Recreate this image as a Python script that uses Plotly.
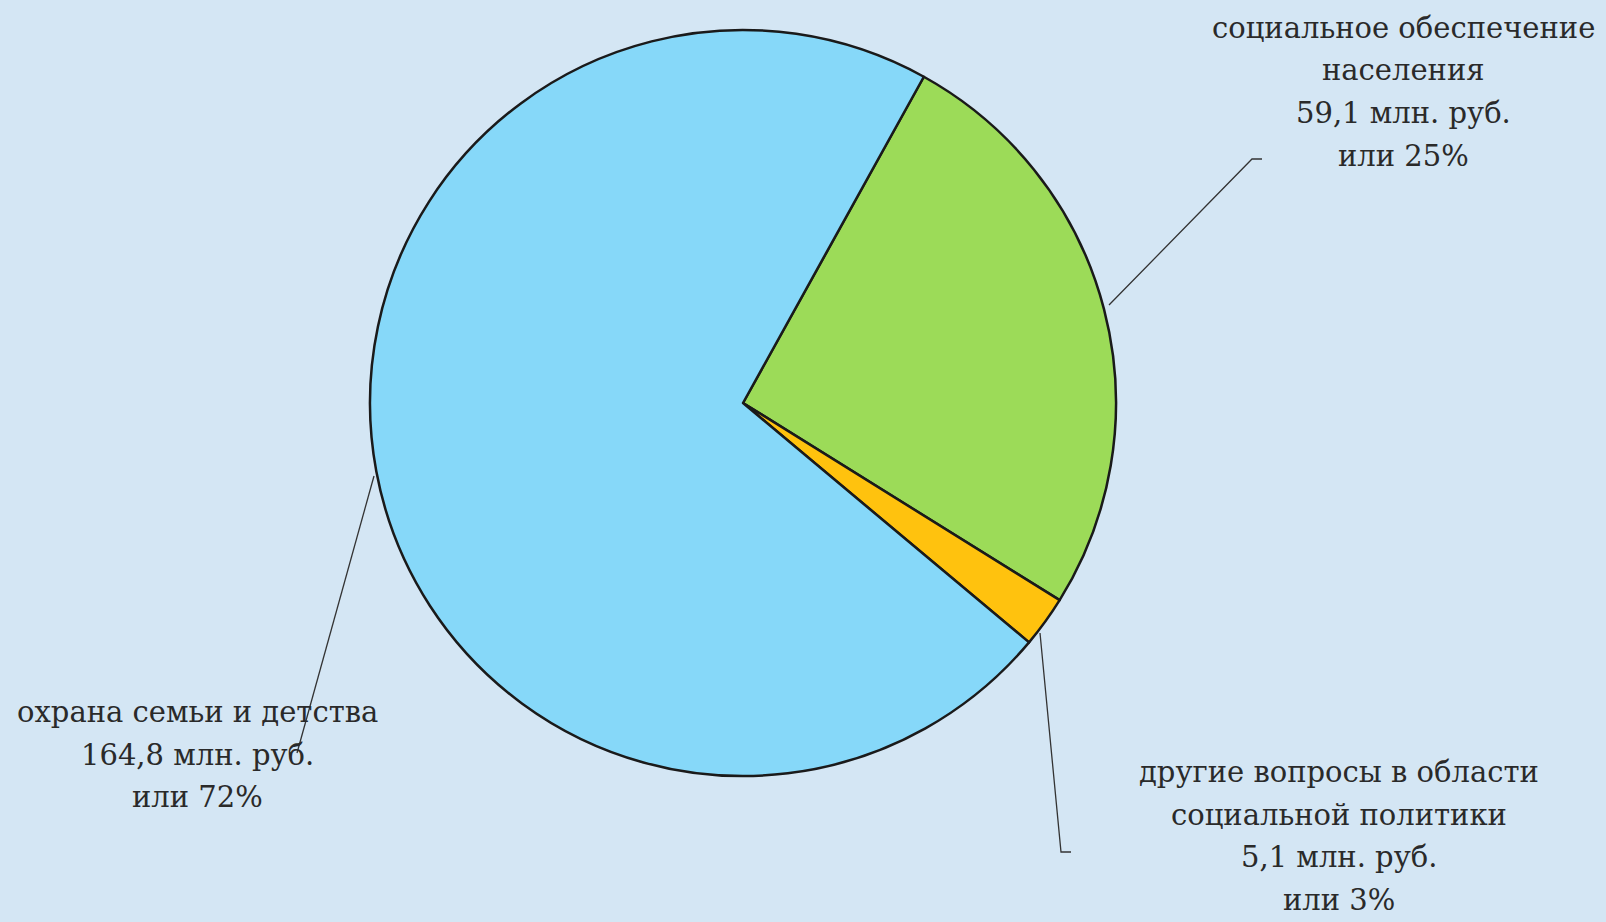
import plotly.graph_objects as go

categories = ["социальное обеспечение населения",
              "другие вопросы в области социальной политики",
              "охрана семьи и детства"]
values = [59.1, 5.1, 164.8]
percents = [25, 3, 72]
colors = ["#9CDB58", "#FFC20E", "#86D8F9"]

W, H = 1606, 922
BG = "#D4E6F4"

def px(x):
    return x / W

def py(y):
    return 1 - y / H

cx, cy, r = 743, 403, 373

fig = go.Figure(go.Pie(
    labels=categories, values=values, sort=False, direction="clockwise",
    rotation=29, marker=dict(colors=colors, line=dict(color="#1a1a1a", width=2.5)),
    textinfo="none", hoverinfo="label+value+percent", showlegend=False,
    domain=dict(x=[px(cx - r), px(cx + r)], y=[py(cy + r), py(cy - r)]),
))

def fmt(v):
    return f"{v:.1f}".replace(".", ",")

label_lines = [
    ["социальное обеспечение", "населения", f"{fmt(values[0])} млн. руб.", f"или {percents[0]}%"],
    ["другие вопросы в области", "социальной политики", f"{fmt(values[1])} млн. руб.", f"или {percents[1]}%"],
    ["охрана семьи и детства", f"{fmt(values[2])} млн. руб.", f"или {percents[2]}%"],
]
label_pos = [(1403, 28), (1339, 772), (197, 712)]
line_gap = 42.5
leaders = [
    [(1109, 305), (1252, 159), (1262, 159)],
    [(1040, 633), (1061, 852), (1071, 852)],
    [(374, 476), (297, 753)],
]

font = dict(family="DejaVu Serif", size=29, color="#2a2a2a")
for lines, (x, y0) in zip(label_lines, label_pos):
    for i, t in enumerate(lines):
        fig.add_annotation(x=px(x), y=py(y0 + i * line_gap), xref="paper", yref="paper",
                           text=t, showarrow=False, font=font,
                           xanchor="center", yanchor="middle")

for pts in leaders:
    path = "M " + " L ".join(f"{px(a)},{py(b)}" for a, b in pts)
    fig.add_shape(type="path", path=path, xref="paper", yref="paper",
                  line=dict(color="#333333", width=1.3))

fig.update_layout(width=W, height=H, paper_bgcolor=BG, plot_bgcolor=BG,
                  margin=dict(l=0, r=0, t=0, b=0))
fig.write_html("out.html", config={"displayModeBar": False},
               post_script="document.body.style.margin='0';document.body.style.overflow='hidden';")
